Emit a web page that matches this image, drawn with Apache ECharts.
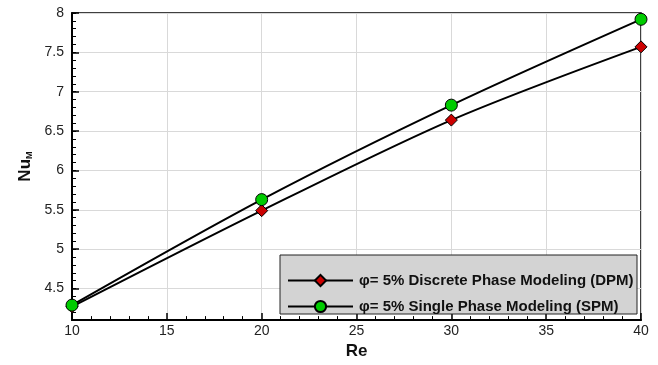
<!DOCTYPE html>
<html>
<head>
<meta charset="utf-8">
<script src="https://cdn.jsdelivr.net/npm/echarts@6/dist/echarts.min.js"></script>
<style>
html, body { margin: 0; padding: 0; background: #fff; }
#chart { width: 658px; height: 365px; }
</style>
</head>
<body>
<div id="chart"></div>
<script>
// Re values and Nu_M
var re = [10, 20, 30, 40];
var dpm = [4.27, 5.49, 6.64, 7.57];
var spm = [4.29, 5.63, 6.83, 7.92];
var yMajor = [4.5, 5, 5.5, 6, 6.5, 7, 7.5, 8];
var yMinor = [];
for (var v = 42; v <= 80; v++) yMinor.push(v / 10);

var names = ['φ= 5% Discrete Phase Modeling (DPM)', 'φ= 5% Single Phase Modeling (SPM)'];

var dom = document.getElementById('chart');
var myChart = echarts.init(dom);

function pairs(ys) {
    var out = [];
    for (var i = 0; i < re.length; i++) out.push([re[i], ys[i]]);
    return out;
}

var font = 'Liberation Sans, Arial, sans-serif';
var labelFont = { color: '#222', fontSize: 14, fontFamily: font };

var option = {
    animation: false,
    grid: {
        left: 72, right: 17, top: 13, bottom: 41,
        show: true, borderColor: '#000', borderWidth: 1.5
    },
    graphic: [{
        type: 'rect',
        shape: { x: 280, y: 255, width: 357, height: 59 },
        style: { fill: '#d3d3d3', stroke: '#222', lineWidth: 1 },
        z: 10
    }],
    legend: {
        data: names,
        orient: 'vertical',
        left: 287, top: 273,
        itemWidth: 65, itemHeight: 14, itemGap: 11,
        padding: 0,
        z: 20,
        textStyle: { color: '#111', fontSize: 15, fontWeight: 'bold', fontFamily: font, padding: [0, 0, 0, 1] }
    },
    xAxis: {
        type: 'value', min: 10, max: 40, interval: 5,
        name: 'Re', nameLocation: 'middle', nameGap: 20,
        nameTextStyle: { color: '#111', fontSize: 17, fontWeight: 'bold', fontFamily: font },
        axisLine: { lineStyle: { color: '#000', width: 2 } },
        axisTick: { inside: true, length: 7, lineStyle: { color: '#000', width: 1.5 } },
        minorTick: { show: true, splitNumber: 5, length: 4, lineStyle: { color: '#000', width: 1 } },
        axisLabel: Object.assign({ margin: 4 }, labelFont),
        splitLine: { lineStyle: { color: '#d9d9d9', width: 1 } }
    },
    yAxis: [{
        type: 'value', min: 4.1, max: 8,
        name: '{a|Nu}{b|M}', nameLocation: 'middle', nameGap: 36, nameRotate: 90,
        nameTextStyle: {
            rich: {
                a: { color: '#111', fontSize: 17, fontWeight: 'bold', fontFamily: font },
                b: { color: '#111', fontSize: 9, fontWeight: 'bold', fontFamily: font, padding: [8, 0, 0, 0] }
            }
        },
        axisLine: { lineStyle: { color: '#000', width: 2 } },
        axisTick: { inside: true, length: 7, customValues: yMajor, lineStyle: { color: '#000', width: 1.5 } },
        axisLabel: Object.assign({ margin: 8, customValues: yMajor }, labelFont),
        splitLine: { lineStyle: { color: '#d9d9d9', width: 1 } }
    }, {
        type: 'value', min: 4.1, max: 8, position: 'left',
        axisLine: { show: false },
        axisTick: { inside: true, length: 4, customValues: yMinor, lineStyle: { color: '#000', width: 1 } },
        axisLabel: { show: false },
        splitLine: { show: false }
    }],
    series: [{
        name: names[0],
        type: 'line',
        smooth: 0.3,
        data: pairs(dpm),
        symbol: 'diamond', symbolSize: 12,
        lineStyle: { color: '#000', width: 2 },
        itemStyle: { color: '#cc0000', borderColor: '#000', borderWidth: 1 },
        z: 5
    }, {
        name: names[1],
        type: 'line',
        smooth: 0.3,
        data: pairs(spm),
        symbol: 'circle', symbolSize: 12,
        lineStyle: { color: '#000', width: 2 },
        itemStyle: { color: '#00cc00', borderColor: '#000', borderWidth: 1 },
        z: 5
    }]
};

myChart.setOption(option, true);
</script>
</body>
</html>
